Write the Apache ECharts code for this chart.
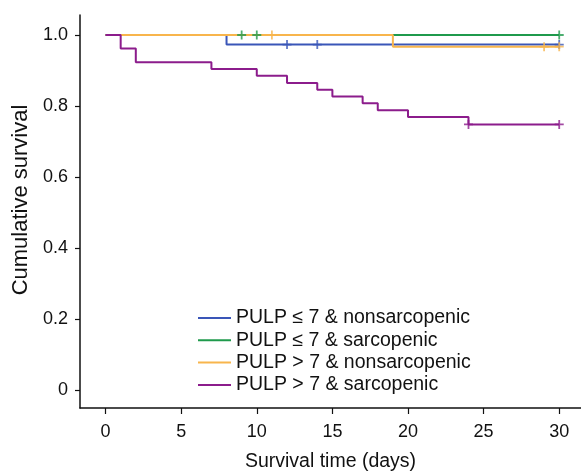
<!DOCTYPE html>
<html>
<head>
<meta charset="utf-8">
<script src="https://cdn.jsdelivr.net/npm/echarts@6/dist/echarts.min.js"></script>
<style>
  html, body { margin: 0; padding: 0; background: #fff; }
  #main { width: 581px; height: 471px; }
</style>
</head>
<body>
<div id="main"></div>
<script>
// survival curves (day, cumulative survival) - step functions
var names = ['PULP ≤ 7 & nonsarcopenic', 'PULP ≤ 7 & sarcopenic', 'PULP > 7 & nonsarcopenic', 'PULP > 7 & sarcopenic'];
var colors = ['#3a56b8', '#1f9a4c', '#f8b54c', '#8c1c8c'];

var lowNonsarcDays = [0, 8, 30];
var lowNonsarcSurv = [1, 0.973, 0.973];
var lowSarcDays = [0, 30];
var lowSarcSurv = [1, 1];
var highNonsarcDays = [0, 19, 30];
var highNonsarcSurv = [1, 0.967, 0.967];
var highSarcDays = [0, 1, 2, 7, 10, 12, 14, 15, 17, 18, 20, 24, 30];
var highSarcSurv = [1, 0.962, 0.923, 0.904, 0.885, 0.865, 0.846, 0.827, 0.808, 0.788, 0.769, 0.748, 0.748];

// censored observations
var lowNonsarcCensor = [12, 14, 30];
var lowSarcCensor = [9, 10, 30];
var highNonsarcCensor = [11, 29, 30];
var highSarcCensor = [24, 30];

var xTicks = [0, 5, 10, 15, 20, 25, 30];
var yTicks = [0, 0.2, 0.4, 0.6, 0.8, 1.0];

function pairs(xs, ys) {
  return xs.map(function (x, i) { return [x, ys[i]]; });
}
// value of a step curve at day d
function survAt(xs, ys, d) {
  var v = ys[0];
  for (var i = 0; i < xs.length; i++) { if (xs[i] <= d) v = ys[i]; }
  return v;
}
function censorPts(days, xs, ys) {
  return days.map(function (d) { return [d, survAt(xs, ys, d)]; });
}

var curves = [
  [lowNonsarcDays, lowNonsarcSurv, lowNonsarcCensor],
  [lowSarcDays, lowSarcSurv, lowSarcCensor],
  [highNonsarcDays, highNonsarcSurv, highNonsarcCensor],
  [highSarcDays, highSarcSurv, highSarcCensor]
];
// draw order: green, blue, orange, purple
var order = [1, 0, 2, 3];

var plus = 'path://M4,0H6V4H10V6H6V10H4V6H0V4H4Z';
var series = [];
order.forEach(function (k) {
  series.push({
    name: names[k],
    type: 'line',
    step: 'end',
    showSymbol: false,
    data: pairs(curves[k][0], curves[k][1]),
    lineStyle: { color: colors[k], width: 2 },
    itemStyle: { color: colors[k] },
    z: 2
  });
});
order.forEach(function (k) {
  series.push({
    name: 'censor' + k,
    type: 'scatter',
    symbol: plus,
    symbolSize: 9,
    data: censorPts(curves[k][2], curves[k][0], curves[k][1]),
    itemStyle: { color: colors[k] },
    z: 3
  });
});

var font = '"Liberation Sans", Arial, sans-serif';
var chart = echarts.init(document.getElementById('main'));
var option = {
  animation: false,
  backgroundColor: '#fff',
  textStyle: { fontFamily: font },
  grid: { left: 80, right: 0, top: 15, bottom: 63, outerBoundsMode: 'none', containLabel: false },
  legend: {
    data: names.map(function (n, i) {
      return { name: n, icon: 'rect', itemStyle: { color: colors[i] } };
    }),
    orient: 'vertical',
    left: 193,
    top: 302,
    itemWidth: 33,
    itemHeight: 2,
    itemGap: 0.3,
    selectedMode: false,
    textStyle: { fontFamily: font, fontSize: 19.5, color: '#111', lineHeight: 22, padding: [0, 0, 0, 0] }
  },
  xAxis: {
    type: 'value',
    min: -1.69,
    max: 31.44,
    name: 'Survival time (days)',
    nameLocation: 'middle',
    nameGap: 44,
    nameTextStyle: { fontSize: 19.5, color: '#111', fontFamily: font },
    axisLine: { onZero: false, lineStyle: { color: '#111', width: 1.5 } },
    axisTick: { customValues: xTicks, length: 6, lineStyle: { color: '#111', width: 1.2 } },
    axisLabel: { customValues: xTicks, fontSize: 18, color: '#111', margin: 15, fontFamily: font },
    splitLine: { show: false }
  },
  yAxis: {
    type: 'value',
    min: -0.0507,
    max: 1.0563,
    axisLine: { show: true, onZero: false, lineStyle: { color: '#111', width: 1.5 } },
    axisTick: { show: true, customValues: yTicks, length: 5, lineStyle: { color: '#111', width: 1.2 } },
    axisLabel: {
      customValues: yTicks, fontSize: 18, color: '#111', margin: 12, fontFamily: font,
      formatter: function (v) { return v === 0 ? '0' : v.toFixed(1); }
    },
    splitLine: { show: false }
  },
  graphic: [{
    type: 'text',
    x: 21,
    y: 200,
    rotation: Math.PI / 2,
    style: {
      text: 'Cumulative survival',
      fontSize: 22,
      fontFamily: font,
      fill: '#111',
      align: 'center',
      verticalAlign: 'middle'
    }
  }],
  series: series
};
chart.setOption(option);
</script>
</body>
</html>
